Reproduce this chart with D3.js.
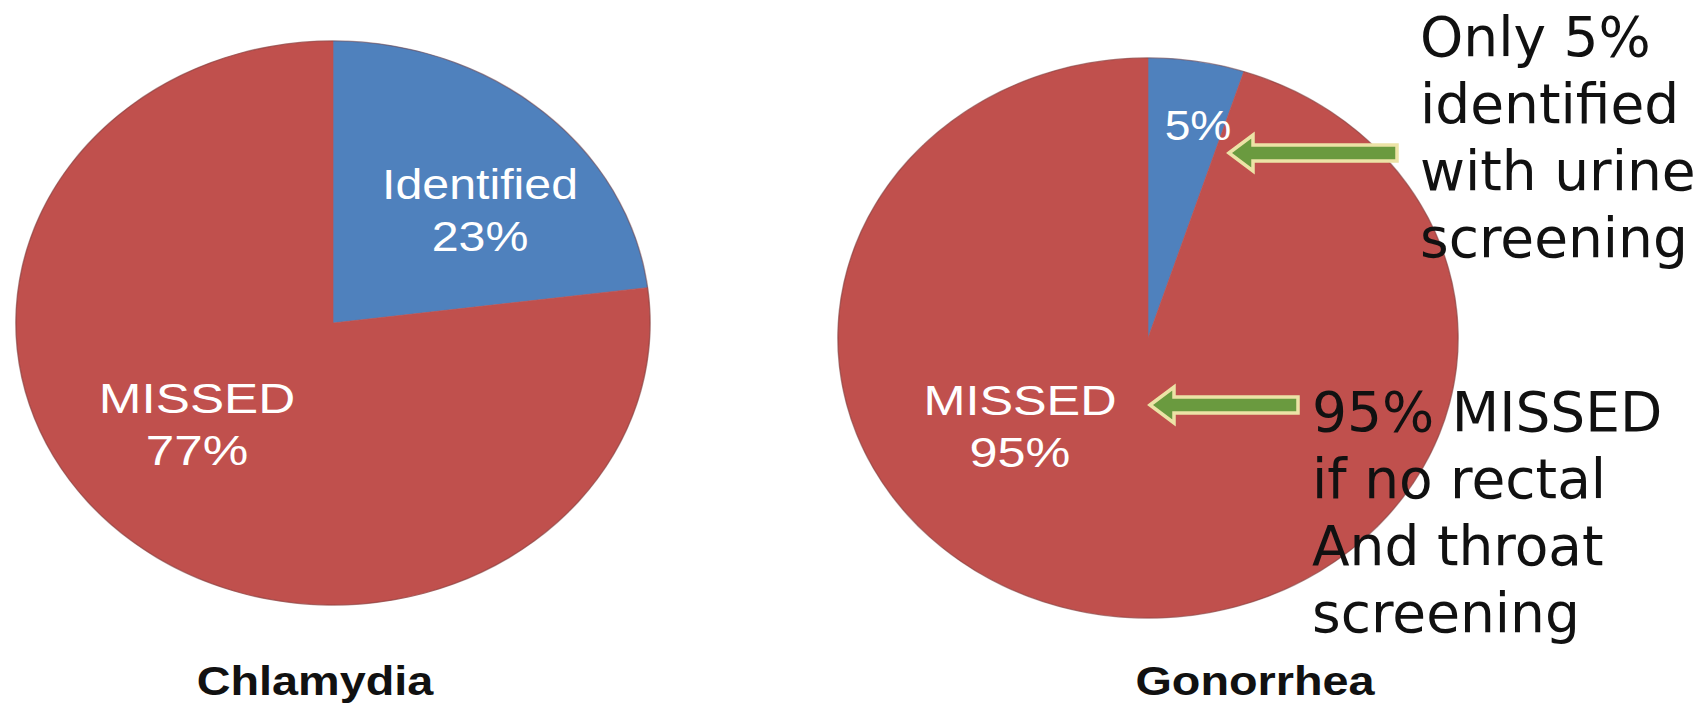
<!DOCTYPE html>
<html>
<head>
<meta charset="utf-8">
<script src="https://cdn.jsdelivr.net/npm/d3@7"></script>
<style>
  html, body { margin: 0; padding: 0; background: #ffffff; }
  svg { display: block; }
</style>
</head>
<body>
<svg id="chart" width="1706" height="707"></svg>
<script>
// ---- data ----
const categories = ["Identified", "MISSED"];
const chlamydiaValues = [23, 77];
const gonorrheaValues = [5, 95];
const pieTitles = ["Chlamydia", "Gonorrhea"];
const sliceColors = ["#4f81bd", "#c0504d"];
const urineNote = ["Only 5%", "identified", "with urine", "screening"];
const missedNote = ["95% MISSED", "if no rectal", "And throat", "screening"];

// ---- layout ----
const W = 1706, H = 707;
const svg = d3.select("#chart").attr("viewBox", `0 0 ${W} ${H}`);

const color = d3.scaleOrdinal().domain(categories).range(sliceColors);
const pie = d3.pie().sort(null).value(d => d.value);

const panels = [
  {
    title: pieTitles[0],
    values: chlamydiaValues,
    cx: 333, cy: 323, rx: 317, ry: 282,
    titleX: 315,
    // label anchor per slice (offset from centre), and whether the category name is shown
    labels: [
      { dx: 147, dy: -124, showName: true, stretch: 1.15 },
      { dx: -136, dy: 90, showName: true, stretch: 1.22 }
    ]
  },
  {
    title: pieTitles[1],
    values: gonorrheaValues,
    cx: 1148, cy: 338, rx: 310, ry: 280,
    titleX: 1255,
    labels: [
      { dx: 50, dy: -198, showName: false, stretch: 1.1 },
      { dx: -128, dy: 77, showName: true, stretch: 1.2 }
    ]
  }
];

const labelFont = "'Liberation Sans', Arial, sans-serif";
const labelSize = 42;
const lineGap = 52;

panels.forEach(p => {
  const data = categories.map((c, i) => ({ category: c, value: p.values[i] }));
  const arcs = pie(data);
  const arc = d3.arc().innerRadius(0).outerRadius(p.ry);

  // slices, drawn as an ellipse by stretching the circle horizontally
  const g = svg.append("g")
    .attr("transform", `translate(${p.cx},${p.cy}) scale(${p.rx / p.ry},1)`);

  g.selectAll("path.slice")
    .data(arcs)
    .join("path")
    .attr("class", "slice")
    .attr("d", arc)
    .attr("fill", d => color(d.data.category))
    .attr("stroke", d => color(d.data.category))
    .attr("stroke-width", 0.6);

  // soft outline of the pie
  g.append("path")
    .attr("d", d3.arc().innerRadius(p.ry - 0.5).outerRadius(p.ry + 0.8)({ startAngle: 0, endAngle: 2 * Math.PI }))
    .attr("fill", "#6e3434")
    .attr("opacity", 0.45);

  // slice labels
  arcs.forEach((a, i) => {
    const L = p.labels[i];
    const lines = L.showName
      ? [a.data.category, `${a.data.value}%`]
      : [`${a.data.value}%`];
    const t = svg.append("text")
      .attr("transform", `translate(${p.cx + L.dx},${p.cy + L.dy}) scale(${L.stretch},1)`)
      .attr("text-anchor", "middle")
      .attr("font-family", labelFont)
      .attr("font-size", labelSize)
      .attr("fill", "#ffffff");
    lines.forEach((s, k) => {
      t.append("tspan").attr("x", 0).attr("y", k * lineGap).text(s);
    });
  });

  // chart title below the pie
  svg.append("text")
    .attr("transform", `translate(${p.titleX},695) scale(1.17,1)`)
    .attr("text-anchor", "middle")
    .attr("font-family", labelFont)
    .attr("font-weight", "bold")
    .attr("font-size", 40)
    .attr("fill", "#111111")
    .text(p.title);
});

// ---- callout arrows ----
function arrowPath(tipX, tailX, y, shaftHalf, headHalf, headLen) {
  return d3.line()([
    [tipX, y],
    [tipX + headLen, y - headHalf],
    [tipX + headLen, y - shaftHalf],
    [tailX, y - shaftHalf],
    [tailX, y + shaftHalf],
    [tipX + headLen, y + shaftHalf],
    [tipX + headLen, y + headHalf]
  ]) + "Z";
}

const arrows = [
  { tip: 1229, tail: 1397, y: 153 },
  { tip: 1150, tail: 1298, y: 405 }
];
arrows.forEach(a => {
  svg.append("path")
    .attr("d", arrowPath(a.tip, a.tail, a.y, 8, 18, 24))
    .attr("fill", "#6a9a3f")
    .attr("stroke", "#ece3a6")
    .attr("stroke-width", 3.5)
    .attr("stroke-linejoin", "miter");
});

// ---- callout notes ----
const noteFont = "'DejaVu Sans', Verdana, sans-serif";
function note(lines, x, y0, gap) {
  const t = svg.append("text")
    .attr("font-family", noteFont)
    .attr("font-size", 55)
    .attr("fill", "#111111");
  lines.forEach((s, k) => {
    t.append("tspan").attr("x", x).attr("y", y0 + k * gap).text(s);
  });
}
note(urineNote, 1420, 56, 67);
note(missedNote, 1312, 431, 67);
</script>
</body>
</html>
